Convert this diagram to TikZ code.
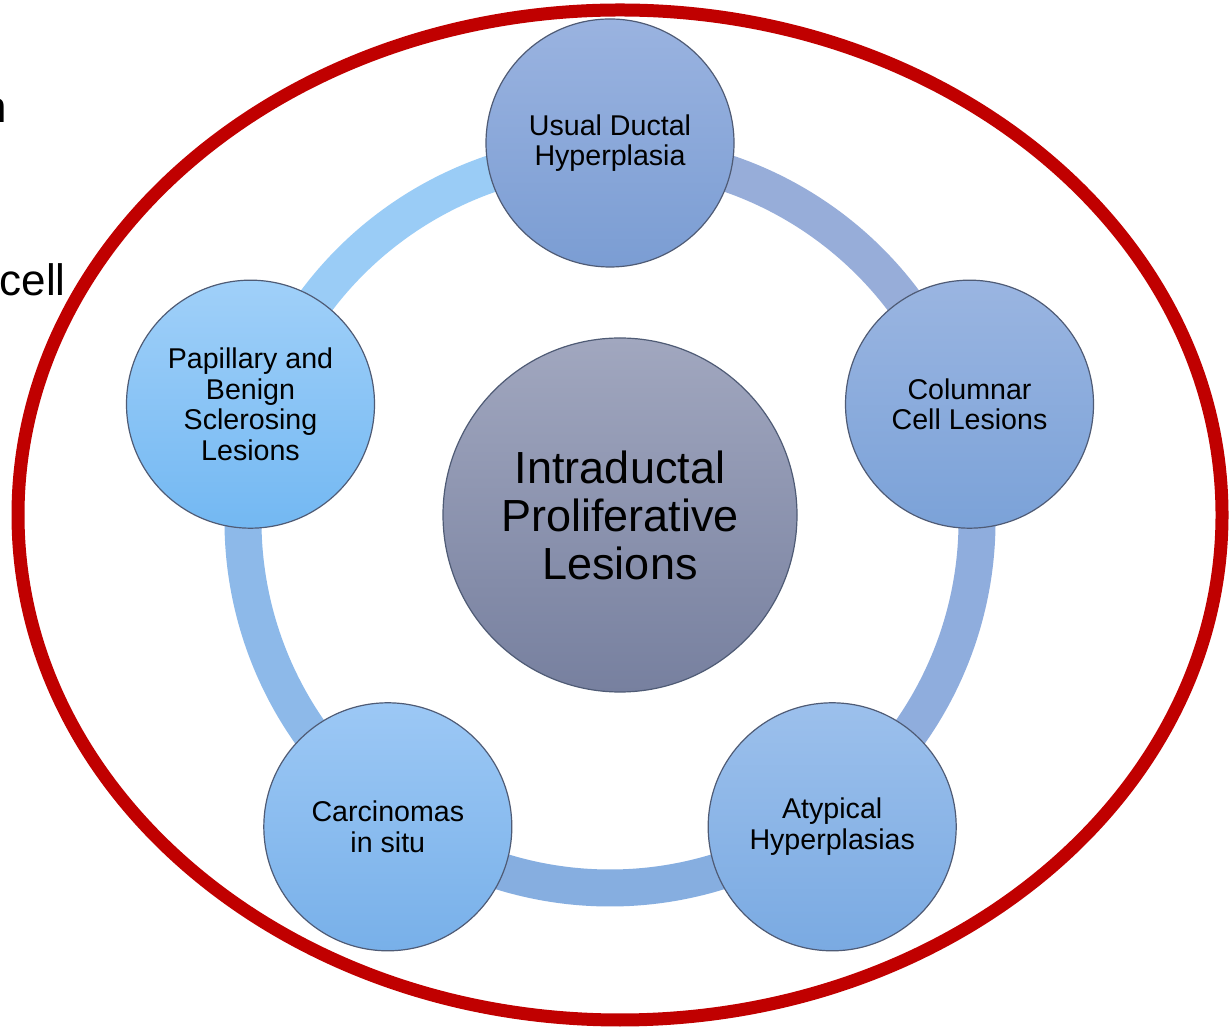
\documentclass[tikz,border=0pt]{standalone}
\usepackage{fontspec}
\setmainfont{Liberation Sans}
\usetikzlibrary{calc}
\definecolor{redring}{HTML}{C00000}
\definecolor{nodeborder}{HTML}{4F5B75}
\definecolor{segA}{HTML}{9ACCF6}
\definecolor{segB}{HTML}{8DB9E9}
\definecolor{segC}{HTML}{86AEE0}
\definecolor{segD}{HTML}{8FADDD}
\definecolor{segE}{HTML}{97ADD9}
\definecolor{hubtop}{HTML}{A1A7BF}
\definecolor{hubbot}{HTML}{77809F}
\definecolor{udhtop}{HTML}{9AB3E0}
\definecolor{udhbot}{HTML}{7B9DD3}
\definecolor{coltop}{HTML}{9AB5E1}
\definecolor{colbot}{HTML}{7BA2D8}
\definecolor{atytop}{HTML}{9CC0EC}
\definecolor{atybot}{HTML}{7AAAE2}
\definecolor{cartop}{HTML}{9CC8F5}
\definecolor{carbot}{HTML}{78B0E9}
\definecolor{paptop}{HTML}{A0D0F9}
\definecolor{papbot}{HTML}{73B8F2}
\tikzset{
  sat/.style={circle, draw=nodeborder, line width=0.6pt, minimum size=124pt, inner sep=0pt,
    align=center, text=black, font=\fontsize{14.3}{15.3}\selectfont},
  hub/.style={circle, draw=nodeborder, line width=0.6pt, minimum size=177pt, inner sep=0pt,
    align=center, text=black, top color=hubtop, bottom color=hubbot,
    font=\fontsize{22.5}{24}\selectfont},
  ringseg/.style={line width=18.5pt},
  edgetext/.style={anchor=base east, inner sep=0pt, text=black, font=\fontsize{22}{26}\selectfont}
}
\begin{document}
\begin{tikzpicture}[x=0.5pt,y=0.5pt]
\clip (0,0) rectangle (1230,1027);
\useasboundingbox (0,0) rectangle (1230,1027);
\fill[white] (0,0) rectangle (1230,1027);

% partial text from the left edge
\node[edgetext] (tn) at (7,904) {n};
\node[edgetext] (tcell) at (66,731) {cell};

% red ellipse
\coordinate (ell) at (620,512);
\draw[redring, line width=6.5pt] (ell) ellipse [x radius=301pt, y radius=252.5pt];

% ring
\coordinate (ring) at (610,506);
\draw[ringseg, segE] ([shift={(18:183.5pt)}]ring) arc[start angle=18, end angle=90, radius=183.5pt];
\draw[ringseg, segA] ([shift={(90:183.5pt)}]ring) arc[start angle=90, end angle=162, radius=183.5pt];
\draw[ringseg, segB] ([shift={(162:183.5pt)}]ring) arc[start angle=162, end angle=234, radius=183.5pt];
\draw[ringseg, segC] ([shift={(234:183.5pt)}]ring) arc[start angle=234, end angle=306, radius=183.5pt];
\draw[ringseg, segD] ([shift={(306:183.5pt)}]ring) arc[start angle=306, end angle=378, radius=183.5pt];

% satellites
\node[sat, top color=udhtop, bottom color=udhbot] (udh) at ([shift={(90:189pt)}]ring) {Usual Ductal\\Hyperplasia};
\node[sat, top color=coltop, bottom color=colbot] (col) at ([shift={(18:189pt)}]ring) {Columnar\\Cell Lesions};
\node[sat, top color=atytop, bottom color=atybot] (aty) at ([shift={(-54:189pt)}]ring) {Atypical\\Hyperplasias};
\node[sat, top color=cartop, bottom color=carbot] (car) at ([shift={(-126:189pt)}]ring) {Carcinomas\\in situ};
\node[sat, top color=paptop, bottom color=papbot] (pap) at ([shift={(162:189pt)}]ring) {Papillary and\\Benign\\Sclerosing\\Lesions};

% hub
\node[hub] (hub) at (620,512) {Intraductal\\Proliferative\\Lesions};
\end{tikzpicture}
\end{document}
